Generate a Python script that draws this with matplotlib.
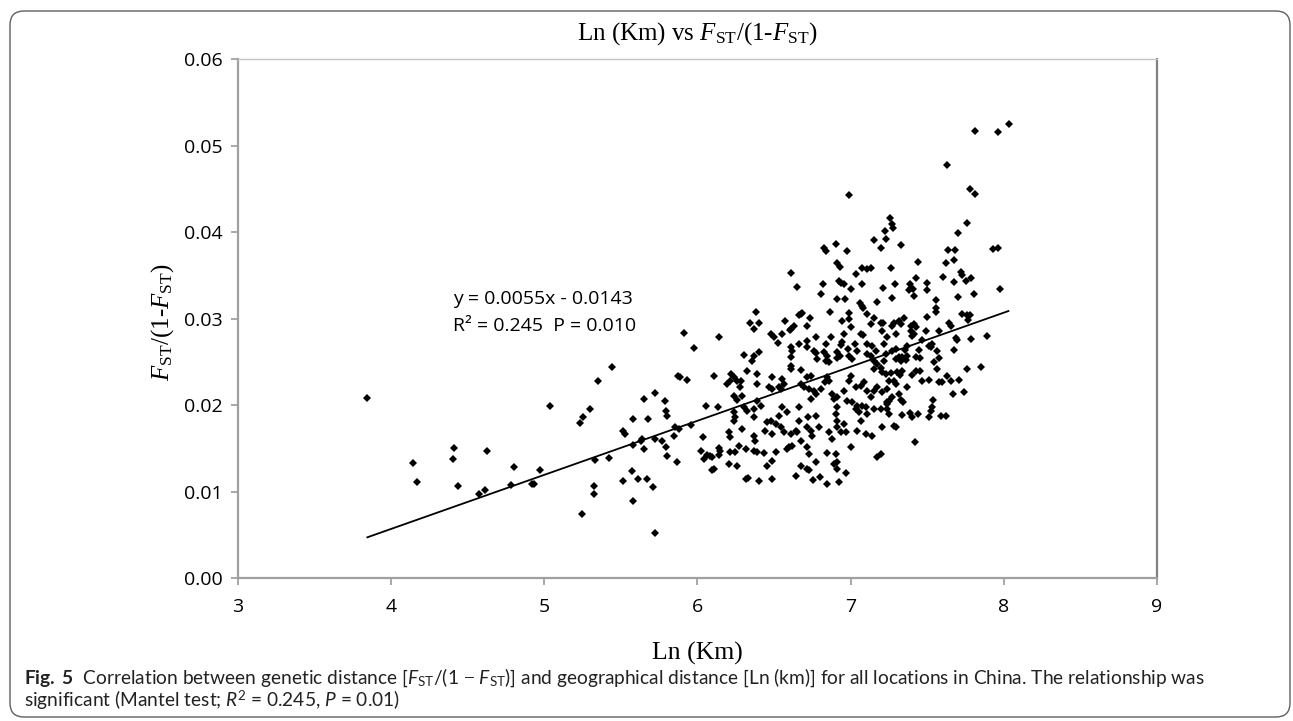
import matplotlib
matplotlib.use('Agg')  # no display
import matplotlib.pyplot as plt
from matplotlib.patches import FancyBboxPatch
from matplotlib.transforms import IdentityTransform

# Pairwise points: Ln(km) and Fst/(1-Fst)
ln_km = [
    3.845, 4.146, 4.168,
    4.412, 4.403, 4.440, 4.625, 4.610, 4.577, 4.804, 4.784, 4.969, 4.922, 4.935,
    5.039, 5.235, 5.251, 5.296, 5.349, 5.440, 5.329, 5.423, 5.325, 5.325, 5.248,
    5.512, 5.525, 5.580, 5.580, 5.573, 5.516, 5.577, 5.610, 5.632, 5.640, 5.651,
    5.651, 5.675, 5.723, 5.669, 5.710, 5.723, 5.723,
    5.791, 5.795, 5.802, 5.871, 5.889, 5.932, 5.911, 5.976, 6.139, 6.105, 6.059,
    5.856, 5.882, 5.959, 5.845, 5.771, 5.797, 5.802, 5.867, 6.037, 6.024, 6.046,
    6.085, 6.139, 6.098, 6.107,
    6.651, 6.817, 6.804, 6.935, 6.956, 7.000, 7.072, 7.214, 6.908, 6.961, 7.059,
    7.072, 7.078, 7.174, 6.863, 6.673, 6.660, 6.684, 6.732, 6.383, 6.342, 6.401,
    6.368, 6.569, 6.629, 6.612, 6.712, 6.989, 6.991, 7.109, 7.152, 7.196, 7.214,
    7.135, 7.000, 6.946, 7.065, 7.083, 7.206, 7.239, 6.477, 6.499, 6.549, 6.527,
    6.603, 6.662, 6.717, 6.771, 6.869, 6.837, 6.956, 6.946, 6.935, 6.985, 7.026,
    7.109, 7.141, 7.163, 7.217,
    6.608, 6.619, 6.712, 6.760, 6.771, 6.782, 6.826, 6.848, 6.837, 6.859, 6.912,
    6.930, 6.908, 6.989, 7.011, 7.044, 7.109, 7.131, 7.152, 7.174, 7.196, 7.152,
    7.206, 7.229,
    6.303, 6.357, 6.368, 6.401, 6.612, 6.608, 6.612, 6.673,
    6.219, 6.237, 6.211, 6.193, 6.258, 6.285, 6.324, 6.386, 6.386, 6.277, 6.237,
    6.258, 6.294,
    6.488, 6.553, 6.564, 6.532, 6.466, 6.488, 6.543,
    6.673, 6.695, 6.728, 6.760, 6.717, 6.739, 6.843, 6.859, 6.830, 6.804, 6.771,
    6.739, 6.880, 6.912, 6.891,
    6.956, 6.989, 7.000, 7.033, 7.065, 7.087, 7.109, 7.131, 7.152, 7.174, 7.206,
    7.239,
    6.978, 7.011, 7.044, 7.076, 7.098, 7.033, 7.054, 7.109, 7.152, 7.196, 7.239,
    6.912, 6.902,
    6.303, 6.368, 6.412, 6.390, 6.324, 6.133,
    6.237, 6.248, 6.237,
    6.553, 6.586, 6.532, 6.477, 6.510, 6.543, 6.564,
    6.662, 6.721, 6.771, 6.793, 6.717, 6.662, 6.641,
    6.368, 6.455, 6.444, 6.488,
    6.291, 6.204, 6.215, 6.368, 6.379,
    6.608, 6.651, 6.673, 6.739, 6.750,
    6.859, 6.880, 6.912, 6.935, 6.967,
    7.044, 7.065, 7.098, 7.141, 7.206,
    7.000, 6.912, 6.956,
    6.063, 6.095, 6.150, 6.139, 6.215, 6.248, 6.314, 6.270,
    6.368, 6.390, 6.433, 6.510, 6.488, 6.597, 6.619, 6.586,
    6.717, 6.728, 6.771, 6.673, 6.717, 6.728,
    6.843, 6.902, 6.912, 6.891, 6.912, 6.967,
    6.204, 6.258, 6.455,
    6.314, 6.329, 6.401, 6.484, 6.641, 6.756, 6.799, 6.848, 6.924,
    7.196, 7.174,
    8.035, 7.963, 7.815, 7.632, 7.780, 7.815, 7.257, 7.272, 7.279, 7.222, 7.229,
    7.196, 7.327, 7.758, 7.704, 7.638, 7.680, 7.931, 7.965, 7.440, 7.625, 7.675,
    7.265, 7.719, 7.725, 7.601, 7.675, 7.753, 7.788, 7.427, 7.497, 7.501, 7.288,
    7.381, 7.397, 7.408, 7.388, 7.272, 7.414, 7.556, 7.556, 7.699, 7.808, 7.976,
    7.556, 7.497, 7.349, 7.317, 7.327, 7.284, 7.272,
    7.392, 7.414, 7.425, 7.392, 7.414, 7.403, 7.294,
    7.494, 7.577, 7.467, 7.643, 7.658,
    7.728, 7.760, 7.778, 7.765,
    7.686, 7.697, 7.788, 7.893, 7.675,
    7.523, 7.512, 7.534, 7.447,
    7.369, 7.358, 7.294, 7.272, 7.229, 7.217, 7.294, 7.317, 7.338, 7.360, 7.327,
    7.371, 7.425, 7.453,
    7.565, 7.577, 7.545, 7.565, 7.758, 7.850,
    7.632, 7.654, 7.708, 7.599, 7.577, 7.512, 7.464,
    7.403, 7.429, 7.451,
    7.338, 7.323, 7.305, 7.261, 7.250, 7.284, 7.294,
    7.366, 7.671, 7.741, 7.540, 7.534, 7.523,
    7.317, 7.272, 7.327, 7.344, 7.250, 7.235, 7.239,
    7.250, 7.338, 7.388, 7.403, 7.440, 7.512, 7.592, 7.625,
    7.284, 7.294, 7.420,
    6.991, 6.608, 6.826, 6.841, 6.902, 6.978, 6.908, 6.928, 7.033, 7.076, 7.109,
    7.131, 7.152, 6.924,
]

fst_ratio = [
    0.02080, 0.01334, 0.01107,
    0.01511, 0.01376, 0.01061, 0.01468, 0.01023, 0.00969, 0.01284, 0.01076, 0.01257, 0.01084, 0.01088,
    0.01988, 0.01792, 0.01861, 0.01957, 0.02284, 0.02445, 0.01369, 0.01392, 0.01065, 0.00977, 0.00738,
    0.01699, 0.01672, 0.01845, 0.01546, 0.01238, 0.01119, 0.00892, 0.01142, 0.01584, 0.01607, 0.01499,
    0.02076, 0.01838, 0.02142, 0.01150, 0.01053, 0.00523, 0.01607,
    0.02045, 0.01938, 0.01876, 0.02334, 0.02322, 0.02292, 0.02837, 0.02664, 0.02791, 0.02334, 0.01988,
    0.01746, 0.01730, 0.01776, 0.01646, 0.01584, 0.01522, 0.01411, 0.01346, 0.01630, 0.01476, 0.01376,
    0.01411, 0.01503, 0.01246, 0.01265,
    0.03372, 0.03406, 0.03291, 0.03418, 0.03399, 0.03341, 0.03399, 0.03353, 0.03233, 0.03233, 0.03176,
    0.03149, 0.03129, 0.03195, 0.03080, 0.03053, 0.03041, 0.03064, 0.03014, 0.03080, 0.02949, 0.02956,
    0.02880, 0.02968, 0.02918, 0.02880, 0.02918, 0.03064, 0.02995, 0.03053, 0.03014, 0.02956, 0.02956,
    0.02937, 0.02899, 0.02976, 0.02822, 0.02814, 0.02860, 0.02791, 0.02822, 0.02791, 0.02822, 0.02714,
    0.02868, 0.02706, 0.02745, 0.02783, 0.02783, 0.02706, 0.02822, 0.02726, 0.02699, 0.02649, 0.02706,
    0.02706, 0.02687, 0.02630, 0.02706,
    0.02668, 0.02630, 0.02668, 0.02630, 0.02599, 0.02534, 0.02610, 0.02572, 0.02514, 0.02495, 0.02610,
    0.02572, 0.02545, 0.02572, 0.02534, 0.02630, 0.02591, 0.02572, 0.02514, 0.02476, 0.02430, 0.02419,
    0.02380, 0.02361,
    0.02584, 0.02514, 0.02572, 0.02618, 0.02553, 0.02457, 0.02419, 0.02407,
    0.02361, 0.02322, 0.02284, 0.02245, 0.02284, 0.02284, 0.02391, 0.02361, 0.02245, 0.02207, 0.02111,
    0.02061, 0.02111,
    0.02322, 0.02303, 0.02245, 0.02207, 0.02215, 0.02188, 0.02188,
    0.02245, 0.02207, 0.02188, 0.02168, 0.02322, 0.02341, 0.02322, 0.02284, 0.02264, 0.02188, 0.02130,
    0.02073, 0.02130, 0.02091, 0.02073,
    0.02168, 0.02284, 0.02341, 0.02207, 0.02226, 0.02264, 0.02168, 0.02091, 0.02168, 0.02207, 0.02149,
    0.02188,
    0.02053, 0.02034, 0.01995, 0.01995, 0.01976, 0.01957, 0.01918, 0.01900, 0.01957, 0.01957, 0.02034,
    0.01976, 0.01900,
    0.01976, 0.01957, 0.01995, 0.02053, 0.01929, 0.01976,
    0.01918, 0.01860, 0.01822,
    0.01976, 0.01918, 0.01880, 0.01822, 0.01784, 0.01745, 0.01687,
    0.01984, 0.01860, 0.01880, 0.01745, 0.01745, 0.01822, 0.01707,
    0.01860, 0.01803, 0.01707, 0.01669,
    0.01726, 0.01687, 0.01630, 0.01649, 0.01592,
    0.01669, 0.01687, 0.01592, 0.01707, 0.01649,
    0.01687, 0.01611, 0.01745, 0.01687, 0.01687,
    0.01707, 0.01822, 0.01669, 0.01649, 0.01745,
    0.01522, 0.01822, 0.01784,
    0.01419, 0.01399, 0.01476, 0.01419, 0.01457, 0.01457, 0.01496, 0.01534,
    0.01476, 0.01457, 0.01446, 0.01457, 0.01361, 0.01515, 0.01534, 0.01496,
    0.01515, 0.01438, 0.01342, 0.01303, 0.01265, 0.01246,
    0.01446, 0.01438, 0.01342, 0.01322, 0.01265, 0.01219,
    0.01322, 0.01292, 0.01292,
    0.01150, 0.01157, 0.01119, 0.01150, 0.01180, 0.01130, 0.01168, 0.01092, 0.01111,
    0.01438, 0.01407,
    0.05252, 0.05156, 0.05175, 0.04772, 0.04502, 0.04437, 0.04167, 0.04091, 0.04045, 0.04014, 0.03918,
    0.03821, 0.03852, 0.04110, 0.03991, 0.03795, 0.03795, 0.03810, 0.03818, 0.03656, 0.03645, 0.03676,
    0.03591, 0.03541, 0.03506, 0.03483, 0.03429, 0.03437, 0.03468, 0.03468, 0.03418, 0.03330, 0.03399,
    0.03330, 0.03360, 0.03349, 0.03399, 0.03245, 0.03261, 0.03218, 0.03129, 0.03253, 0.03284, 0.03341,
    0.03072, 0.03022, 0.03014, 0.02968, 0.02937, 0.02945, 0.02918,
    0.02918, 0.02937, 0.02899, 0.02860, 0.02822, 0.02803, 0.02822,
    0.02853, 0.02860, 0.02753, 0.02945, 0.02918,
    0.03053, 0.03045, 0.03045, 0.02984,
    0.02776, 0.02753, 0.02764, 0.02799, 0.02638,
    0.02668, 0.02687, 0.02707, 0.02638,
    0.02687, 0.02638, 0.02649, 0.02630, 0.02591, 0.02514, 0.02534, 0.02553, 0.02553, 0.02522, 0.02514,
    0.02572, 0.02553, 0.02545,
    0.02630, 0.02545, 0.02495, 0.02419, 0.02419, 0.02437,
    0.02341, 0.02276, 0.02292, 0.02264, 0.02264, 0.02292, 0.02284,
    0.02353, 0.02399, 0.02391,
    0.02399, 0.02353, 0.02380, 0.02368, 0.02284, 0.02284, 0.02245,
    0.02207, 0.02130, 0.02149, 0.02065, 0.01976, 0.01938,
    0.02130, 0.02099, 0.02061, 0.02034, 0.02053, 0.02015, 0.01957,
    0.01900, 0.01892, 0.01907, 0.01860, 0.01900, 0.01869, 0.01880, 0.01880,
    0.01765, 0.01745, 0.01572,
    0.04425, 0.03533, 0.03821, 0.03783, 0.03860, 0.03783, 0.03648, 0.03599, 0.03514, 0.03591, 0.03572,
    0.03591, 0.03906, 0.03437,
]

# trend line as drawn in the figure
trend_x = [3.845, 8.03]
trend_slope = 0.00625
trend_intercept = -0.0193

x_ticks = [3, 4, 5, 6, 7, 8, 9]
y_ticks = [0.00, 0.01, 0.02, 0.03, 0.04, 0.05, 0.06]
y_tick_labels = ['0.00', '0.01', '0.02', '0.03', '0.04', '0.05', '0.06']

eq_line1 = 'y = 0.0055x - 0.0143'
eq_line2 = 'R\u00b2 = 0.245  P = 0.010'

caption = (r'$\mathbf{Fig.\ 5}$  Correlation between genetic distance '
           r'[$\mathsf{F}_{\mathtt{ST}}$/(1 $-$ $\mathsf{F}_{\mathtt{ST}}$)] and geographical distance '
           r'[Ln (km)] for all locations in China. The relationship was' + '\n'
           r'significant (Mantel test; $\mathsf{R}^{\mathtt{2}}$ = 0.245, $\mathsf{P}$ = 0.01)')

# serif F for title / axis label, Lato pieces for the caption
plt.rcParams['mathtext.fontset'] = 'custom'
plt.rcParams['mathtext.rm'] = 'Liberation Serif'
plt.rcParams['mathtext.it'] = 'Liberation Serif:italic'
plt.rcParams['mathtext.bf'] = 'Lato:bold'
plt.rcParams['mathtext.sf'] = 'Lato:italic'
plt.rcParams['mathtext.tt'] = 'Lato'

fig = plt.figure(figsize=(12.93, 7.21), dpi=100)
ax = fig.add_axes([0.184, 0.198, 0.7108, 0.7199])

ax.plot(ln_km, fst_ratio, linestyle='none', marker='D', markersize=4.3,
        color='black', markeredgewidth=0)
trend_y = [trend_slope * x + trend_intercept for x in trend_x]
ax.plot(trend_x, trend_y, color='black', lw=1.3)

ax.set_xlim(3, 9)
ax.set_ylim(0, 0.06)
ax.set_xticks(x_ticks)
ax.set_yticks(y_ticks)
ax.set_yticklabels(y_tick_labels)
for lab in ax.get_xticklabels() + ax.get_yticklabels():
    lab.set_fontfamily('Open Sans')
    lab.set_fontsize(14)
ax.tick_params(axis='both', direction='out', length=5, width=1.2, color='#9a9a9a')
ax.tick_params(axis='x', pad=9)
ax.tick_params(axis='y', pad=6)

ax.spines['left'].set_color('#a0a0a0')
ax.spines['bottom'].set_color('#a0a0a0')
ax.spines['left'].set_linewidth(1.6)
ax.spines['bottom'].set_linewidth(1.6)
ax.spines['top'].set_color('#c4c4c4')
ax.spines['top'].set_linewidth(1.0)
ax.spines['right'].set_color('#808080')
ax.spines['right'].set_linewidth(1.6)

ax.text(4.405, 0.0323, eq_line1, fontfamily='Open Sans', fontsize=14, va='center')
ax.text(4.405, 0.0292, eq_line2, fontfamily='Open Sans', fontsize=14, va='center')

fig.text(0.539, 0.954, r'Ln (Km) vs $F_{\mathrm{ST}}$/(1-$F_{\mathrm{ST}}$)',
         fontfamily='Liberation Serif', fontsize=18, ha='center', va='center')
fig.text(0.539, 0.094, 'Ln (Km)', fontfamily='Liberation Serif', fontsize=18.5,
         ha='center', va='center')
fig.text(0.126, 0.553, r'$F_{\mathrm{ST}}$/(1-$F_{\mathrm{ST}}$)', fontfamily='Liberation Serif',
         fontsize=18, rotation=90, ha='center', va='center')

# caption below the chart, one text block
fig.text(24 / 1293, 1 - 689 / 721, caption, fontfamily=['Lato', 'DejaVu Sans'],
         fontsize=13.8, color='#222222', va='center', ha='left', linespacing=1.0)

# rounded frame around the whole figure
frame = FancyBboxPatch((10, 4), 1280, 706, boxstyle='round,pad=0,rounding_size=14',
                       transform=IdentityTransform(), facecolor='none',
                       edgecolor='#606060', linewidth=1.0)
fig.add_artist(frame)

plt.savefig('out.png', dpi=100)
plt.close()
